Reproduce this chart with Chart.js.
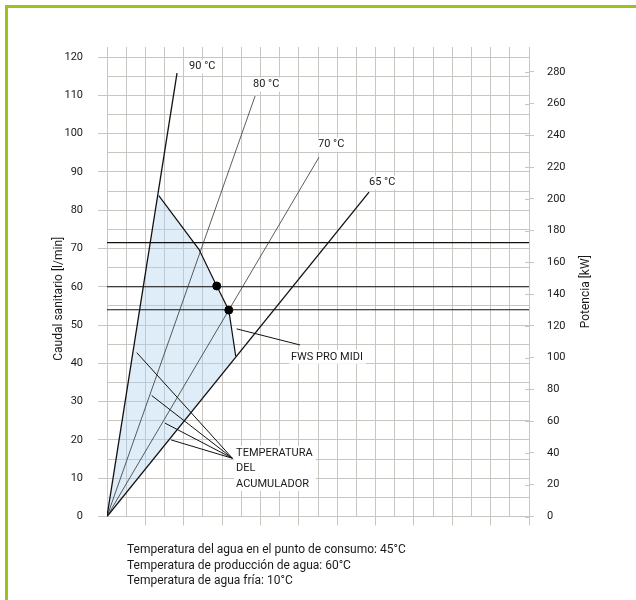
<!DOCTYPE html>
<html><head><meta charset="utf-8">
<script src="https://cdn.jsdelivr.net/npm/chart.js@4.4.1/dist/chart.umd.min.js"></script>
<style>
html,body{margin:0;padding:0;background:#fff;}
#wrap{position:relative;width:636px;height:600px;overflow:hidden;background:#fff;}
#frame{position:absolute;left:5px;top:5px;right:-5px;bottom:-5px;border-top:3px solid #9cc31c;border-left:3px solid #9cc31c;}
canvas{position:absolute;left:0;top:0;}
#notes{position:absolute;left:127px;top:542px;font:12px Roboto, sans-serif;line-height:15.5px;color:#1a1a1a;white-space:nowrap;}
</style></head><body>
<div id="wrap"><div id="frame"></div><canvas id="c" width="636" height="600"></canvas>
<div id="notes"></div></div>
<script>
// ---- data ----
const curveNames = ['90 °C', '80 °C', '70 °C', '65 °C'];
const curveEndX = [3.65, 7.72, 11.05, 13.66];
const curveEndY = [115.8, 109.8, 93.8, 84.7];
const levelValues = [71.5, 60, 54];
const zoneX = [0, 2.70, 4.80, 5.72, 6.35, 6.71, 0];
const zoneY = [0, 83.8, 69.7, 60.2, 53.9, 41.9, 0];
const markX = [5.72, 6.35];
const markY = [60.2, 53.9];
const accStartX = [1.55, 2.33, 3.02, 3.34];
const accStartY = [42.8, 31.6, 24.4, 20.0];
const accEndX = 6.54, accEndY = 15.2;
const fwsLeaderX = [6.76, 10.06];
const fwsLeaderY = [49.0, 44.8];
const leftTickLabels = [0, 10, 20, 30, 40, 50, 60, 70, 80, 90, 100, 110, 120];
const rightTickLabels = [0, 20, 40, 60, 80, 100, 120, 140, 160, 180, 200, 220, 240, 260, 280];
const rightMax = 289.4;
const leftTitle = 'Caudal sanitario [l/min]';
const rightTitle = 'Potencia [kW]';
const calloutText = ['90 °C', '80 °C', '70 °C', '65 °C', 'FWS PRO MIDI', 'TEMPERATURA\nDEL\nACUMULADOR'];
const calloutX = [4.28, 7.61, 11.0, 13.66, 9.59, 6.73];
const calloutY = [117.5, 112.8, 97.1, 87.2, 41.7, 16.6];
const notes = ['Temperatura del agua en el punto de consumo: 45°C', 'Temperatura de producción de agua: 60°C', 'Temperatura de agua fría: 10°C'];

document.getElementById('notes').innerHTML = notes.map(n => '<div>' + n + '</div>').join('');

const GRID = '#c9c5c1';
const FONT = 'Roboto';
const TXT = '#1a1a1a';
const pts = (xs, ys) => xs.map((x, i) => ({x, y: ys[i]}));
const datasets = [];
datasets.push({label: 'zona', data: pts(zoneX, zoneY), fill: 'shape', backgroundColor: 'rgba(172,209,238,0.40)', borderColor: 'rgba(0,0,0,0)', borderWidth: 0, order: 10});
datasets.push({label: 'FWS PRO MIDI', data: pts(zoneX.slice(1, 6), zoneY.slice(1, 6)), borderColor: '#111', borderWidth: 1.2, fill: false, order: 1});
curveNames.forEach((n, i) => datasets.push({label: n, data: [{x: 0, y: 0}, {x: curveEndX[i], y: curveEndY[i]}], borderColor: (i === 0 || i === 3) ? '#111' : '#333', borderWidth: (i === 0 || i === 3) ? 1.3 : 0.8, fill: false, order: 1}));
levelValues.forEach(v => datasets.push({label: 'nivel ' + v, data: [{x: 0, y: v}, {x: 22, y: v}], borderColor: '#111', borderWidth: 1.2, fill: false, order: 1}));
datasets.push({label: 'puntos', data: pts(markX, markY), showLine: false, pointRadius: 4, pointBackgroundColor: '#000', pointBorderColor: '#000', order: 0});
accStartX.forEach((x, i) => datasets.push({label: 'acc' + i, data: [{x, y: accStartY[i]}, {x: accEndX, y: accEndY}], borderColor: '#111', borderWidth: 1, fill: false, order: 1}));
datasets.push({label: 'fws', data: pts(fwsLeaderX, fwsLeaderY), borderColor: '#111', borderWidth: 1, fill: false, order: 1});

const callouts = {
  id: 'callouts',
  afterDatasetsDraw(chart) {
    const {ctx, scales: {x, y}} = chart;
    ctx.save();
    ctx.font = '11px ' + FONT;
    ctx.textBaseline = 'middle';
    ctx.textAlign = 'left';
    const lh = 15.5;
    calloutText.forEach((t, i) => {
      const lines = t.split('\n');
      const px = x.getPixelForValue(calloutX[i]);
      const py = y.getPixelForValue(calloutY[i]);
      const w = Math.max(...lines.map(l => ctx.measureText(l).width));
      ctx.fillStyle = '#fff';
      ctx.fillRect(px - 2, py - 7, w + 5, lh * (lines.length - 1) + 14);
      ctx.fillStyle = TXT;
      lines.forEach((l, k) => ctx.fillText(l, px, py + k * lh));
    });
    ctx.restore();
  },
  afterDraw(chart) {
    const {ctx, chartArea: a, scales: {y2}} = chart;
    ctx.save();
    // inner half of the right-axis tick marks (they cross the axis line)
    ctx.strokeStyle = GRID; ctx.lineWidth = 1;
    y2.ticks.forEach(t => {
      const py = Math.round(y2.getPixelForValue(t.value)) + 0.5;
      ctx.beginPath(); ctx.moveTo(a.right - 4, py); ctx.lineTo(a.right, py); ctx.stroke();
    });
    // axis titles, both reading bottom-to-top
    ctx.fillStyle = TXT;
    ctx.font = '12px ' + FONT;
    ctx.textAlign = 'center';
    ctx.textBaseline = 'middle';
    const cy = (a.top + a.bottom) / 2;
    ctx.save(); ctx.translate(a.left - 48, cy + 12); ctx.rotate(-Math.PI / 2); ctx.fillText(leftTitle, 0, 0); ctx.restore();
    ctx.save(); ctx.translate(a.right + 57, cy + 5); ctx.rotate(-Math.PI / 2); ctx.fillText(rightTitle, 0, 0); ctx.restore();
    ctx.restore();
  }
};

new Chart(document.getElementById('c'), {
  type: 'line',
  data: {datasets},
  plugins: [callouts],
  options: {
    responsive: false,
    animation: false,
    layout: {padding: {left: 0, right: 43, top: 47, bottom: 74.5}},
    plugins: {legend: {display: false}, tooltip: {enabled: false}},
    elements: {point: {radius: 0}, line: {tension: 0}},
    scales: {
      x: {
        type: 'linear', position: 'bottom', min: 0, max: 22,
        ticks: {stepSize: 1, display: false},
        grid: {color: GRID, tickLength: 9, tickColor: c => (c.tick && c.tick.value % 2 === 0 && c.tick.value > 0) ? GRID : 'rgba(0,0,0,0)'},
        border: {color: GRID},
        afterFit: s => { s.height = 9; }
      },
      x2: {
        type: 'linear', position: 'top', min: 0, max: 22,
        ticks: {stepSize: 1, display: false},
        grid: {drawOnChartArea: false, color: GRID, tickLength: 10},
        border: {color: GRID},
        afterFit: s => { s.height = 10; }
      },
      y: {
        type: 'linear', position: 'left', min: 0, max: 120,
        ticks: {stepSize: 5, autoSkip: false, padding: 15, color: TXT, font: {family: FONT, size: 11},
          callback: v => leftTickLabels.includes(v) ? String(v) : ''},
        grid: {color: GRID, tickLength: 9, tickColor: c => (c.tick && leftTickLabels.includes(c.tick.value)) ? GRID : 'rgba(0,0,0,0)'},
        border: {color: GRID},
        title: {display: false, text: leftTitle},
        afterFit: s => { s.width = 107; }
      },
      y2: {
        type: 'linear', position: 'right', min: 0, max: rightMax,
        afterBuildTicks: s => { s.ticks = rightTickLabels.map(v => ({value: v})); },
        ticks: {autoSkip: false, padding: 13, color: TXT, font: {family: FONT, size: 11}},
        grid: {drawOnChartArea: false, color: GRID, tickLength: 5},
        border: {color: GRID},
        title: {display: false, text: rightTitle},
        afterFit: s => { s.width = 64; }
      }
    }
  }
});
</script>
</body></html>
